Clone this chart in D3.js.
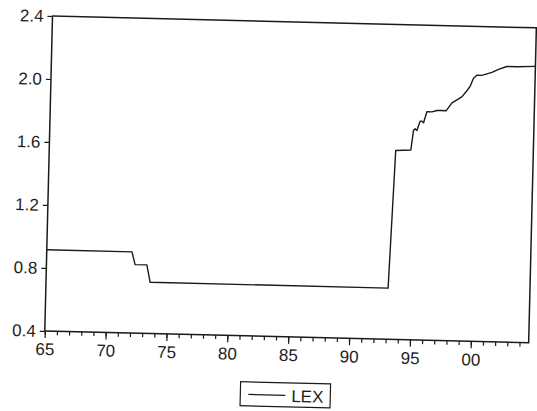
<!DOCTYPE html>
<html>
<head>
<meta charset="utf-8">
<script src="https://cdn.jsdelivr.net/npm/d3@7/dist/d3.min.js"></script>
<style>
  html, body { margin: 0; padding: 0; background: #fff; }
  svg { display: block; }
  text { font-family: "Liberation Sans", Arial, sans-serif; fill: #1e1e1e; }
</style>
</head>
<body>
<div id="chart"></div>
<script>
// LEX, sampled at its turning points (decimal years)
const lexDates = [
  1965.00, 1972.00, 1972.28, 1973.25, 1973.55, 1993.10, 1993.45, 1994.69,
  1994.87, 1995.00, 1995.15, 1995.40, 1995.54, 1995.68, 1995.93, 1996.34,
  1996.75, 1997.02, 1997.52, 1997.97, 1998.37, 1998.77, 1999.17, 1999.44,
  1999.69, 1999.96, 2000.37, 2000.78, 2001.19, 2001.73, 2002.41, 2003.23,
  2004.75
];
const lexValues = [
  0.915, 0.915, 0.835, 0.835, 0.725, 0.725, 1.60, 1.605,
  1.73, 1.74, 1.73, 1.79, 1.79, 1.78, 1.85, 1.85,
  1.86, 1.86, 1.86, 1.91, 1.93, 1.95, 1.99, 2.02,
  2.07, 2.09, 2.09, 2.10, 2.11, 2.13, 2.15, 2.15,
  2.155
];
const seriesName = "LEX";

// axis ticks
const yTicks = [0.4, 0.8, 1.2, 1.6, 2.0, 2.4];
const yTickLabels = ["0.4", "0.8", "1.2", "1.6", "2.0", "2.4"];
const xMajorYears = [1965, 1970, 1975, 1980, 1985, 1990, 1995, 2000];
const xMajorLabels = ["65", "70", "75", "80", "85", "90", "95", "00"];
const xMinorYears = d3.range(1965, 2005);

const W = 537, H = 411;
const plotW = 484, plotH = 315;
const ink = "#1a1a1a";
const fontSize = 17;

const svg = d3.select("#chart").append("svg")
  .attr("width", W).attr("height", H);

svg.append("rect").attr("width", W).attr("height", H).attr("fill", "#fff");

// the printed page sits slightly askew
const g = svg.append("g")
  .attr("transform", "translate(52.5,16) rotate(1.4)");

const x = d3.scaleLinear().domain([1965, 2004.75]).range([0, plotW]);
const y = d3.scaleLinear().domain([0.4, 2.4]).range([plotH, 0]);

// frame
g.append("rect")
  .attr("x", 0).attr("y", 0)
  .attr("width", plotW).attr("height", plotH)
  .attr("fill", "none").attr("stroke", ink).attr("stroke-width", 1.5);

// y axis ticks and labels
const yAxis = d3.axisLeft(y)
  .tickValues(yTicks)
  .tickFormat((d, i) => yTickLabels[i])
  .tickSizeInner(5).tickSizeOuter(0).tickPadding(4);
const gy = g.append("g").call(yAxis);
gy.select(".domain").remove();
gy.selectAll("line").attr("stroke", ink).attr("stroke-width", 1.2);
gy.selectAll("text")
  .attr("font-size", fontSize)
  .attr("font-family", "Liberation Sans, Arial, sans-serif")
  .attr("fill", ink);

// x axis: yearly minor ticks, major ticks every five years
const xMinor = d3.axisBottom(x).tickValues(xMinorYears)
  .tickFormat("").tickSizeInner(4).tickSizeOuter(0);
const gxm = g.append("g").attr("transform", `translate(0,${plotH})`).call(xMinor);
gxm.select(".domain").remove();
gxm.selectAll("line").attr("stroke", ink).attr("stroke-width", 1.2);

const xMajor = d3.axisBottom(x).tickValues(xMajorYears)
  .tickFormat((d, i) => xMajorLabels[i])
  .tickSizeInner(7).tickSizeOuter(0).tickPadding(5);
const gx = g.append("g").attr("transform", `translate(0,${plotH})`).call(xMajor);
gx.select(".domain").remove();
gx.selectAll("line").attr("stroke", ink).attr("stroke-width", 1.2);
gx.selectAll("text")
  .attr("font-size", fontSize)
  .attr("font-family", "Liberation Sans, Arial, sans-serif")
  .attr("fill", ink);

// series line
const pts = lexDates.map((d, i) => [d, lexValues[i]]);
g.append("path")
  .datum(pts)
  .attr("fill", "none")
  .attr("stroke", ink)
  .attr("stroke-width", 1.4)
  .attr("stroke-linejoin", "round")
  .attr("d", d3.line().x(d => x(d[0])).y(d => y(d[1])));

// legend
const lg = g.append("g").attr("transform", `translate(${plotW / 2 - 45},361)`);
lg.append("rect")
  .attr("width", 90).attr("height", 24)
  .attr("fill", "#fff").attr("stroke", ink).attr("stroke-width", 1.2);
lg.append("line")
  .attr("x1", 8).attr("x2", 45).attr("y1", 12.5).attr("y2", 12.5)
  .attr("stroke", ink).attr("stroke-width", 1.3);
lg.append("text")
  .attr("x", 51).attr("y", 19)
  .attr("font-size", fontSize)
  .text(seriesName);
</script>
</body>
</html>
